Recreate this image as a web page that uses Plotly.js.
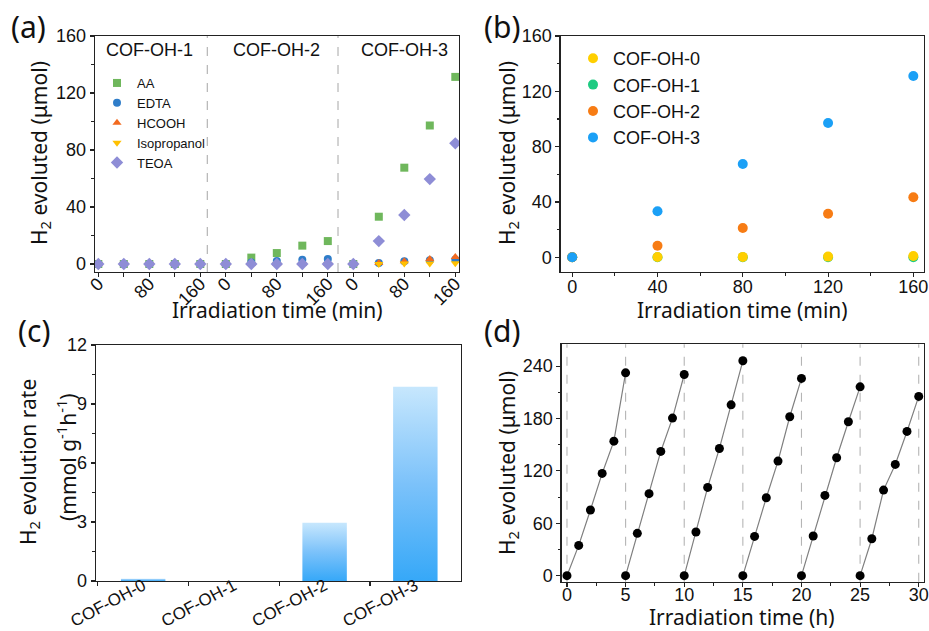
<!DOCTYPE html>
<html>
<head>
<meta charset="utf-8">
<script src="https://cdn.plot.ly/plotly-3.0.1.min.js"></script>
<style>
html,body{margin:0;padding:0;background:#fff;}
#chart{width:929px;height:631px;}
</style>
</head>
<body>
<div id="chart"></div>
<script>
// ---------- Panel (a) data ----------
const timeMin = [0, 40, 80, 120, 160];
const samplesA = ['COF-OH-1', 'COF-OH-2', 'COF-OH-3'];
const aa          = [[0, 0, 0, 0, 0], [0, 4.5, 7.7, 12.9, 16.1], [0, 33.2, 67.6, 97.2, 131.3]];
const edta        = [[0, 0, 0, 0, 0], [0, 1.0, 2.1, 3.0, 3.6], [0, 0.8, 2.0, 2.6, 3.2]];
const hcooh       = [[0, 0, 0, 0, 0], [0, 0, 0, 0, 0], [0, 0.8, 2.0, 3.6, 5.0]];
const isopropanol = [[0, 0, 0, 0, 0], [0, 0, 0, 0, 0], [0, 0, 0.3, 0.4, 0.5]];
const teoa        = [[0, 0, 0, 0, 0], [0, 0, 0, 0, 0], [0, 16.1, 34.4, 59.6, 84.7]];
const sacrificial = ['AA', 'EDTA', 'HCOOH', 'Isopropanol', 'TEOA'];
const aTickLabels = ['0', '80', '160'];

// ---------- Panel (b) data ----------
const samplesB = ['COF-OH-0', 'COF-OH-1', 'COF-OH-2', 'COF-OH-3'];
const h2_cof0 = [0, 0.2, 0.3, 0.5, 0.9];
const h2_cof1 = [0, 0, 0, 0, 0];
const h2_cof2 = [0, 8.4, 21.2, 31.5, 43.4];
const h2_cof3 = [0, 33.3, 67.5, 97.1, 131.1];

// ---------- Panel (c) data ----------
const rateSamples = ['COF-OH-0', 'COF-OH-1', 'COF-OH-2', 'COF-OH-3'];
const rates = [0.12, 0, 2.96, 9.88];

// ---------- Panel (d) data ----------
const cycleHours = [0, 1, 2, 3, 4, 5];
const cycle1 = [0, 34.7, 75.2, 117.1, 154.1, 232.3];
const cycle2 = [0, 48.5, 93.9, 142.3, 180.5, 230.4];
const cycle3 = [0, 50.0, 101.1, 145.7, 195.7, 246.1];
const cycle4 = [0, 45.0, 89.3, 131.2, 182.0, 225.9];
const cycle5 = [0, 45.4, 91.9, 135.1, 176.3, 216.3];
const cycle6 = [0, 42.3, 98.0, 127.4, 165.2, 205.3];
const cycles = [cycle1, cycle2, cycle3, cycle4, cycle5, cycle6];

// ---------- styling ----------
const TF = 'Liberation Sans, Arial, sans-serif';
const TT = 'Noto Sans, Liberation Sans, sans-serif';
const segGap = 200; // spacing of the three segments in panel (a)
const aColors = ['#6fb75c', '#2f7dc9', '#f26a1f', '#ffc000', '#8e8dd6'];
const aSymbols = ['square', 'circle', 'triangle-up', 'triangle-down', 'diamond'];
const bColors = {'COF-OH-0': '#ffcf00', 'COF-OH-1': '#1fcb82', 'COF-OH-2': '#f77c14', 'COF-OH-3': '#1ba0f6'};

const traces = [];

// Panel (a)
const aSeries = [aa, edta, hcooh, isopropanol, teoa];
aSeries.forEach((ser, si) => {
  const xs = [], ys = [];
  ser.forEach((seg, k) => {
    seg.forEach((v, j) => { xs.push(timeMin[j] + k * segGap); ys.push(v); });
  });
  traces.push({
    x: xs, y: ys, type: 'scatter', mode: 'markers', name: sacrificial[si],
    xaxis: 'x', yaxis: 'y', legend: 'legend',
    marker: {symbol: aSymbols[si], color: aColors[si], size: si === 4 ? 9.5 : 8, line: {width: 0}}
  });
});

// Panel (b) - drawn so COF-OH-0 sits over COF-OH-1
const bData = {'COF-OH-0': h2_cof0, 'COF-OH-1': h2_cof1, 'COF-OH-2': h2_cof2, 'COF-OH-3': h2_cof3};
['COF-OH-1', 'COF-OH-0', 'COF-OH-2', 'COF-OH-3'].forEach(name => {
  traces.push({
    x: timeMin, y: bData[name], type: 'scatter', mode: 'markers', name: name,
    xaxis: 'x2', yaxis: 'y2', legend: 'legend2', legendrank: samplesB.indexOf(name) + 1,
    marker: {symbol: 'circle', color: bColors[name], size: 10, line: {width: 0}}
  });
});

// Panel (c)
traces.push({
  x: rateSamples, y: rates, type: 'bar', xaxis: 'x3', yaxis: 'y3', showlegend: false,
  marker: {color: '#7cc4fa', line: {width: 0}}
});

// Panel (d)
cycles.forEach((c, k) => {
  traces.push({
    x: cycleHours.map(h => h + 5 * k), y: c, type: 'scatter', mode: 'lines+markers',
    xaxis: 'x4', yaxis: 'y4', showlegend: false,
    line: {color: '#7f7f7f', width: 1.2},
    marker: {color: '#000', size: 9}
  });
});

const axBase = {
  showline: true, mirror: true, linecolor: '#222', linewidth: 1.3,
  ticks: 'outside', ticklen: 4, tickwidth: 1.1, tickcolor: '#222',
  showgrid: false, zeroline: false,
  tickfont: {family: TF, size: 18, color: '#111'}
};
function ax(o) { return Object.assign({}, axBase, o); }
const minorOf = d => ({dtick: d, ticklen: 2.5, tickcolor: '#222', ticks: 'outside'});

const W = 929, H = 631;
const px = v => v / W, py = v => 1 - v / H;

// tick positions for panel (a)
const aMajor = [], aText = [], aMinor = [];
samplesA.forEach((s, k) => {
  [0, 80, 160].forEach((t, j) => { aMajor.push(t + k * segGap); aText.push(aTickLabels[j]); });
  [40, 120].forEach(t => aMinor.push(t + k * segGap));
});

const shapes = [];
[171, 376].forEach(xv => shapes.push({
  type: 'line', xref: 'x', yref: 'y domain', x0: xv, x1: xv, y0: 0, y1: 1,
  line: {color: '#b5b5b5', width: 1.2, dash: 'dash'}, layer: 'below'
}));
[0, 5, 10, 15, 20, 25, 30].forEach(xv => shapes.push({
  type: 'line', xref: 'x4', yref: 'y4 domain', x0: xv, x1: xv, y0: 0, y1: 1,
  line: {color: '#b5b5b5', width: 1.1, dash: 'dash'}, layer: 'below'
}));

const ann = [];
function txt(x, y, text, size, extra) {
  ann.push(Object.assign({xref: 'paper', yref: 'paper', x: px(x), y: py(y), text: text, showarrow: false,
    xanchor: 'center', yanchor: 'middle', font: {family: TT, size: size, color: '#111'}}, extra || {}));
}
// panel labels
txt(28, 26, '(a)', 30);
txt(502, 26, '(b)', 30);
txt(34, 330, '(c)', 30);
txt(502, 330, '(d)', 30);
// segment labels in (a)
samplesA.forEach((s, k) => {
  ann.push({xref: 'x', yref: 'paper', x: 80 + k * segGap, y: py(50), text: s, showarrow: false,
    xanchor: 'center', yanchor: 'middle', font: {family: TF, size: 18, color: '#111'}});
});
// axis titles
txt(277, 310, 'Irradiation time (min)', 21);
txt(742, 310, 'Irradiation time (min)', 21);
txt(742, 617, 'Irradiation time (h)', 21);
txt(40, 153, 'H<sub>2</sub> evoluted (μmol)', 21, {textangle: -90});
txt(508, 153, 'H<sub>2</sub> evoluted (μmol)', 21, {textangle: -90});
txt(508, 463, 'H<sub>2</sub> evoluted (μmol)', 21, {textangle: -90});
txt(29, 462, 'H<sub>2</sub> evolution rate', 21, {textangle: -90});
txt(67, 457, '(mmol g<sup>-1</sup>h<sup>-1</sup>)', 21, {textangle: -90});

const layout = {
  width: W, height: H, margin: {l: 0, r: 0, t: 0, b: 0},
  paper_bgcolor: '#fff', plot_bgcolor: '#fff',
  bargap: 0.51,
  xaxis: ax({domain: [px(95), px(459)], range: [-5.2, 565.8], anchor: 'y',
    tickmode: 'array', tickvals: aMajor, ticktext: aText, tickangle: -45, ticklabelstandoff: -11,
    minor: {tickmode: 'array', tickvals: aMinor, ticklen: 4, tickcolor: '#222', ticks: 'outside'}}),
  yaxis: ax({domain: [py(272), py(36)], range: [-5.6, 160], anchor: 'x', dtick: 40, minor: minorOf(20)}),
  xaxis2: ax({domain: [px(560.7), px(924)], range: [-5.4, 165], anchor: 'y2', dtick: 40,
    minor: minorOf(20), ticklabelstandoff: -6}),
  yaxis2: ax({domain: [py(271.7), py(36)], range: [-10.4, 160], anchor: 'x2', dtick: 40, minor: minorOf(20)}),
  xaxis3: ax({domain: [px(96), px(460.7)], range: [-0.52, 3.5], anchor: 'y3',
    tickson: 'boundaries', tickangle: -28, ticklabelstandoff: -13,
    tickfont: {family: TF, size: 17, color: '#111'}}),
  yaxis3: ax({domain: [py(581), py(345)], range: [0, 12], anchor: 'x3', dtick: 3, minor: minorOf(1.5)}),
  xaxis4: ax({domain: [px(561.7), px(924)], range: [-0.45, 30.45], anchor: 'y4', dtick: 5,
    minor: minorOf(2.5), ticklabelstandoff: -8}),
  yaxis4: ax({domain: [py(581.7), py(344.3)], range: [-6.9, 265], anchor: 'x4', dtick: 60, minor: minorOf(30)}),
  legend: {x: px(97), y: py(68), xanchor: 'left', yanchor: 'top', bgcolor: 'rgba(0,0,0,0)',
    font: {family: TF, size: 13, color: '#111'}, tracegroupgap: 0},
  legend2: {x: px(573), y: py(40), xanchor: 'left', yanchor: 'top', bgcolor: 'rgba(0,0,0,0)',
    font: {family: TF, size: 18, color: '#111'}, traceorder: 'normal'},
  shapes: shapes,
  annotations: ann
};

Plotly.newPlot('chart', traces, layout, {displayModeBar: false, staticPlot: true}).then(gd => {
  const svg = gd.querySelector('.main-svg');
  const defs = svg.querySelector('defs');
  const NS = 'http://www.w3.org/2000/svg';
  const g = document.createElementNS(NS, 'linearGradient');
  g.setAttribute('id', 'barGrad');
  g.setAttribute('x1', '0'); g.setAttribute('y1', '1');
  g.setAttribute('x2', '0'); g.setAttribute('y2', '0');
  [['0', '#36a8f8'], ['0.5', '#7cc2fa'], ['1', '#c7e7fd']].forEach(([o, c]) => {
    const s = document.createElementNS(NS, 'stop');
    s.setAttribute('offset', o); s.setAttribute('stop-color', c);
    g.appendChild(s);
  });
  defs.appendChild(g);
  gd.querySelectorAll('.barlayer .point path').forEach(p => { p.style.fill = 'url(#barGrad)'; });
});
</script>
</body>
</html>
